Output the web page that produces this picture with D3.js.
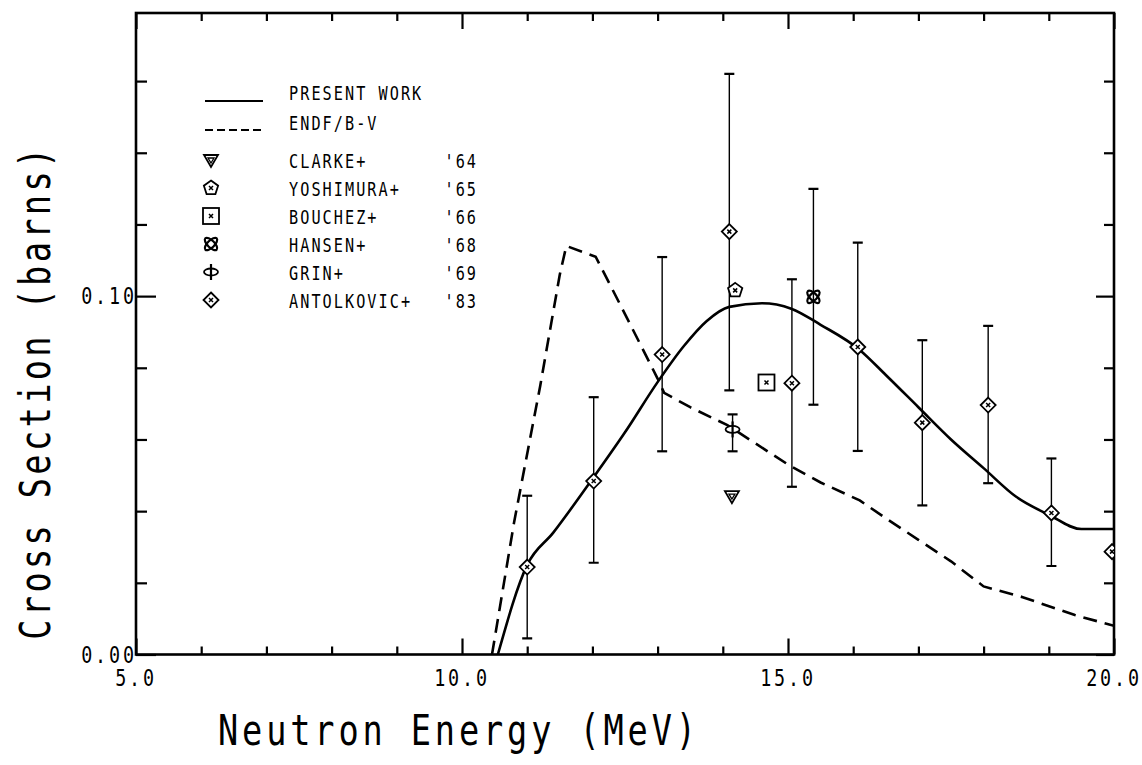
<!DOCTYPE html>
<html><head><meta charset="utf-8">
<script src="https://cdn.jsdelivr.net/npm/d3@7"></script>
<style>
body{margin:0;background:#fff;}
svg{display:block;}
text{font-family:"DejaVu Sans Mono",monospace;fill:#000;}
</style></head>
<body>
<svg id="c" width="1142" height="765"></svg>
<script>
// ---- data ----
const xTicksMajor = [5, 10, 15, 20];
const xTicksMinor = [6, 7, 8, 9, 11, 12, 13, 14, 16, 17, 18, 19];
const yTicksMajor = [0, 0.10];
const yTicksMinor = [0.02, 0.04, 0.06, 0.08, 0.12, 0.14, 0.16];

const presentE = [10.55, 11.0, 11.4, 12.0, 12.5, 13.0, 13.4, 13.75, 14.1, 14.6, 15.05, 15.5, 16.1, 16.5, 17.0, 17.5, 18.0, 18.5, 19.0, 19.5, 20.0];
const presentV = [0.0, 0.025, 0.034, 0.049, 0.062, 0.076, 0.086, 0.093, 0.097, 0.098, 0.0965, 0.092, 0.085, 0.078, 0.069, 0.060, 0.052, 0.044, 0.039, 0.035, 0.035];

const endfE = [10.46, 10.8, 11.2, 11.5, 11.6, 12.05, 12.5, 13.0, 13.1, 13.5, 14.07, 15.0, 15.5, 16.1, 16.5, 17.0, 17.5, 18.0, 18.6, 19.4, 20.0];
const endfV = [0.0, 0.037, 0.075, 0.106, 0.114, 0.111, 0.095, 0.077, 0.073, 0.069, 0.064, 0.053, 0.048, 0.043, 0.038, 0.032, 0.026, 0.019, 0.016, 0.011, 0.008];

const antolE  = [11.0, 12.02, 13.07, 14.10, 15.06, 16.07, 17.06, 18.07, 19.04, 19.97];
const antolV  = [0.0244, 0.0484, 0.0837, 0.118, 0.0757, 0.0858, 0.0647, 0.0696, 0.0395, 0.0287];
const antolLo = [0.0045, 0.0256, 0.0567, 0.0737, 0.0468, 0.0568, 0.0416, 0.0478, 0.0247, null];
const antolHi = [0.0443, 0.0718, 0.1109, 0.162, 0.1047, 0.1149, 0.0877, 0.0917, 0.0547, null];

const clarkeE = [14.14], clarkeV = [0.0442];
const yoshiE = [14.19], yoshiV = [0.1016];
const bouchE = [14.67], bouchV = [0.0759];
const hansenE = [15.39], hansenV = [0.0998], hansenLo = [0.0697], hansenHi = [0.1299];
const grinE = [14.15], grinV = [0.0628], grinLo = [0.0567], grinHi = [0.067];

const legendLines = ["PRESENT WORK", "ENDF/B-V"];
const legendNames = ["CLARKE+", "YOSHIMURA+", "BOUCHEZ+", "HANSEN+", "GRIN+", "ANTOLKOVIC+"];
const legendYears = ["'64", "'65", "'66", "'68", "'69", "'83"];
const legendSyms  = ["tri", "pent", "sq", "hansen", "grin", "diam"];

const xTitle = "Neutron Energy (MeV)";
const yTitle = "Cross Section (barns)";

// ---- layout ----
const L = 136, R = 1114, T = 13, B = 654.5;
const svg = d3.select("#c");
const x = d3.scaleLinear().domain([5, 20]).range([L, R]);
const y = d3.scaleLinear().domain([0, 0.179]).range([B, T]);
const SX = 0.8;

// condensed plotter-like text: glyphs squeezed horizontally, spacing restored
function ptext(g, tx, ty, str, size, anchor, advance, rot){
  const ls = advance / SX - 0.602 * size;
  const n = str.length;
  const w = n * advance;
  let off = 0;
  if (anchor === "middle") off = -w / 2;
  else if (anchor === "end") off = -w + ls * SX;
  g.append("text")
    .attr("transform", `translate(${tx},${ty})` + (rot ? ` rotate(${rot})` : "") + ` translate(${off},0) scale(${SX},1)`)
    .attr("font-size", size).attr("letter-spacing", ls).text(str);
}

svg.append("defs").append("clipPath").attr("id", "clip")
  .append("rect").attr("x", L).attr("y", T).attr("width", R - L).attr("height", B - T);

function styleAxis(g){ g.select(".domain").remove(); g.selectAll("line").attr("stroke","#000").attr("stroke-width",2.2); }
svg.append("g").attr("transform",`translate(0,${B})`)
  .call(d3.axisBottom(x).tickValues(xTicksMinor).tickSize(-8).tickFormat("")).call(styleAxis);
svg.append("g").attr("transform",`translate(0,${B})`)
  .call(d3.axisBottom(x).tickValues(xTicksMajor).tickSize(-16).tickFormat("")).call(styleAxis);
svg.append("g").attr("transform",`translate(0,${T})`)
  .call(d3.axisTop(x).tickValues(xTicksMinor).tickSize(-8).tickFormat("")).call(styleAxis);
svg.append("g").attr("transform",`translate(0,${T})`)
  .call(d3.axisTop(x).tickValues(xTicksMajor).tickSize(-16).tickFormat("")).call(styleAxis);
svg.append("g").attr("transform",`translate(${L},0)`)
  .call(d3.axisLeft(y).tickValues(yTicksMinor).tickSize(-11).tickFormat("")).call(styleAxis);
svg.append("g").attr("transform",`translate(${L},0)`)
  .call(d3.axisLeft(y).tickValues(yTicksMajor).tickSize(-20).tickFormat("")).call(styleAxis);
svg.append("g").attr("transform",`translate(${R},0)`)
  .call(d3.axisRight(y).tickValues(yTicksMinor).tickSize(-10).tickFormat("")).call(styleAxis);
svg.append("g").attr("transform",`translate(${R},0)`)
  .call(d3.axisRight(y).tickValues(yTicksMajor).tickSize(-18).tickFormat("")).call(styleAxis);

// tick labels
const tl = svg.append("g");
const fx = d3.format(".1f"), fy = d3.format(".2f");
xTicksMajor.forEach(v => ptext(tl, x(v), B + 31, fx(v), 23, "middle", 13.9));
yTicksMajor.forEach(v => ptext(tl, L - 2, y(v) + 8, fy(v), 23, "end", 13.9));

// frame
svg.append("rect").attr("x",L).attr("y",T).attr("width",R-L).attr("height",B-T)
  .attr("fill","none").attr("stroke","#000").attr("stroke-width",2.6);

const plot = svg.append("g").attr("clip-path","url(#clip)");

// curves
const line = d3.line().x(d=>x(d[0])).y(d=>y(d[1])).curve(d3.curveMonotoneX);
plot.append("path").datum(presentE.map((e,i)=>[e,presentV[i]]))
  .attr("d",line).attr("fill","none").attr("stroke","#000").attr("stroke-width",2.6);
const lineLin = d3.line().x(d=>x(d[0])).y(d=>y(d[1]));
plot.append("path").datum(endfE.map((e,i)=>[e,endfV[i]]))
  .attr("d",lineLin).attr("fill","none").attr("stroke","#000").attr("stroke-width",2.6)
  .attr("stroke-dasharray","14,8");

// error bars
function errBars(E, lo, hi){
  E.forEach((e,i)=>{
    if(lo[i]==null) return;
    const g = plot.append("g").attr("stroke","#000");
    g.append("line").attr("x1",x(e)).attr("x2",x(e)).attr("y1",y(lo[i])).attr("y2",y(hi[i])).attr("stroke-width",1.4);
    [lo[i],hi[i]].forEach(v=>g.append("line").attr("x1",x(e)-5).attr("x2",x(e)+5)
      .attr("y1",y(v)).attr("y2",y(v)).attr("stroke-width",2.2));
  });
}
errBars(antolE, antolLo, antolHi);
errBars(hansenE, hansenLo, hansenHi);
errBars(grinE, grinLo, grinHi);

// symbols
function sym(g, type, cx, cy){
  const s = g.append("g").attr("transform",`translate(${cx},${cy})`)
    .attr("stroke","#000").attr("fill","#fff").attr("stroke-width",1.8);
  const cross = (r)=>{ s.append("path").attr("d",`M${-r},${-r}L${r},${r}M${-r},${r}L${r},${-r}`).attr("stroke-width",1.5); };
  if(type==="diam"){ s.append("path").attr("d","M0,-7.5L7.5,0L0,7.5L-7.5,0Z"); cross(2); }
  else if(type==="pent"){
    const pts = d3.range(5).map(k=>{const a=-Math.PI/2+k*2*Math.PI/5; return [7.5*Math.cos(a),7.5*Math.sin(a)];});
    s.append("path").attr("d","M"+pts.join("L")+"Z"); cross(2);
  }
  else if(type==="sq"){ s.append("rect").attr("x",-8).attr("y",-8).attr("width",16).attr("height",16); cross(2); }
  else if(type==="tri"){ s.append("path").attr("d","M-7,-5L7,-5L0,7Z"); s.append("path").attr("d","M-3,-2L3,-2L0,3Z").attr("stroke-width",1.3); }
  else if(type==="hansen"){
    s.append("ellipse").attr("rx",8).attr("ry",3.5).attr("transform","rotate(45)").attr("fill","none").attr("stroke-width",2.2);
    s.append("ellipse").attr("rx",8).attr("ry",3.5).attr("transform","rotate(-45)").attr("fill","none").attr("stroke-width",2.2);
  }
  else if(type==="grin"){
    s.append("ellipse").attr("rx",7).attr("ry",3.5);
    s.append("line").attr("x1",0).attr("x2",0).attr("y1",-8).attr("y2",8).attr("stroke-width",2.2);
  }
}
antolE.forEach((e,i)=>sym(plot,"diam",x(e),y(antolV[i])));
clarkeE.forEach((e,i)=>sym(plot,"tri",x(e),y(clarkeV[i])));
yoshiE.forEach((e,i)=>sym(plot,"pent",x(e),y(yoshiV[i])));
bouchE.forEach((e,i)=>sym(plot,"sq",x(e),y(bouchV[i])));
hansenE.forEach((e,i)=>sym(plot,"hansen",x(e),y(hansenV[i])));
grinE.forEach((e,i)=>sym(plot,"grin",x(e),y(grinV[i])));

// legend
const lg = svg.append("g");
lg.append("line").attr("x1",205).attr("x2",263).attr("y1",101).attr("y2",101).attr("stroke","#000").attr("stroke-width",2.2);
lg.append("line").attr("x1",205).attr("x2",263).attr("y1",130).attr("y2",130).attr("stroke","#000").attr("stroke-width",2.2).attr("stroke-dasharray","8,4");
ptext(lg, 289, 100, legendLines[0], 19, "start", 11.2);
ptext(lg, 289, 130, legendLines[1], 19, "start", 11.2);
legendNames.forEach((n,i)=>{
  const by = 168 + i*28;
  ptext(lg, 289, by, n, 19, "start", 11.2);
  ptext(lg, 476, by, legendYears[i], 19, "end", 11.2);
  sym(lg, legendSyms[i], 211, by-8);
});

// titles
ptext(svg, 459, 745, xTitle, 42, "middle", 24.1);
ptext(svg, 50, 392, yTitle, 42, "middle", 23.6, -90);
</script>
</body></html>
